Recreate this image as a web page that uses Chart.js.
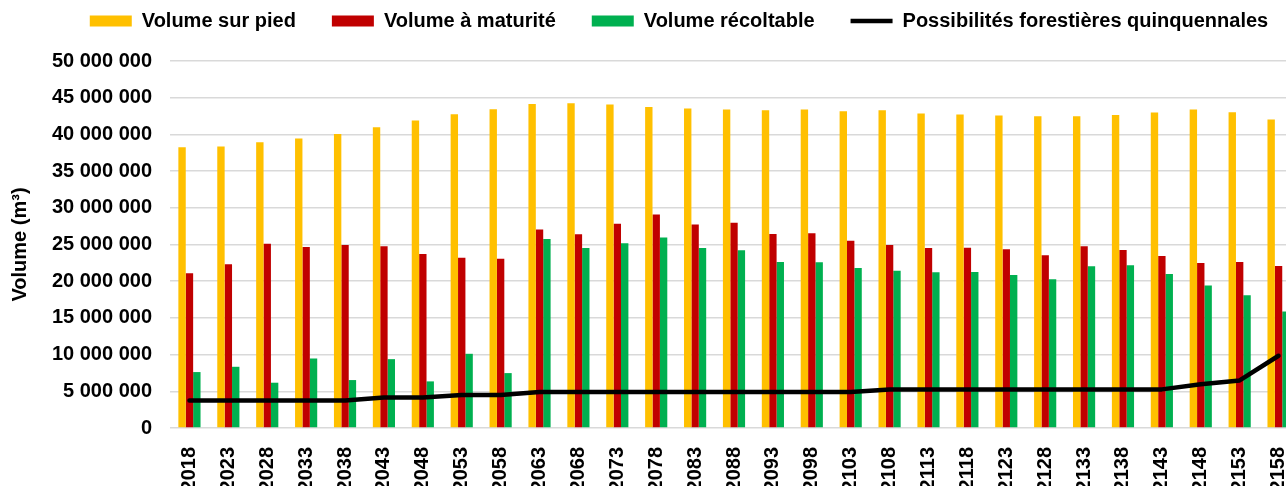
<!DOCTYPE html>
<html lang="fr">
<head>
<meta charset="utf-8">
<title>Volumes forestiers</title>
<script src="https://cdn.jsdelivr.net/npm/chart.js@4.4.1/dist/chart.umd.min.js"></script>
<style>
    html, body { margin: 0; padding: 0; background: #fff; overflow: hidden; }
    #wrap { width: 1358px; height: 492px; }
</style>
</head>
<body>
<div id="wrap"><canvas id="chart" width="1358" height="492"></canvas></div>
<script>
// Years (every 5 years)
const years = ['2018', '2023', '2028', '2033', '2038', '2043', '2048', '2053', '2058', '2063',
    '2068', '2073', '2078', '2083', '2088', '2093', '2098', '2103', '2108', '2113',
    '2118', '2123', '2128', '2133', '2138', '2143', '2148', '2153', '2158'];

// Volumes in m3
const volumeSurPied = [38260000, 38350000, 38940000, 39440000, 40070000, 40980000, 41890000, 42750000, 43430000, 44150000,
    44240000, 44060000, 43740000, 43520000, 43380000, 43290000, 43380000, 43150000, 43290000, 42840000,
    42700000, 42570000, 42470000, 42470000, 42660000, 42970000, 43380000, 43020000, 42020000];

const volumeMaturite = [21080000, 22300000, 25110000, 24660000, 24930000, 24750000, 23710000, 23210000, 23070000, 27060000,
    26380000, 27830000, 29100000, 27740000, 27970000, 26430000, 26520000, 25520000, 24930000, 24520000,
    24570000, 24340000, 23530000, 24750000, 24250000, 23440000, 22480000, 22620000, 22080000];

const volumeRecoltable = [7620000, 8340000, 6170000, 9470000, 6530000, 9380000, 6350000, 10110000, 7480000, 25750000,
    24520000, 25160000, 25970000, 24520000, 24210000, 22620000, 22570000, 21800000, 21440000, 21210000,
    21260000, 20850000, 20260000, 22030000, 22170000, 20990000, 19400000, 18090000, 15870000];

const possibilites = [3760000, 3760000, 3760000, 3760000, 3760000, 4170000, 4170000, 4490000, 4490000, 4900000,
    4900000, 4900000, 4900000, 4900000, 4900000, 4900000, 4900000, 4900000, 5260000, 5260000,
    5260000, 5260000, 5260000, 5260000, 5260000, 5260000, 5950000, 6480000, 9840000];

const yTicks = { min: 0, max: 50000000, step: 5000000 };

const FONT = '"Liberation Sans", Arial, sans-serif';
const GRID = '#d9d9d9';

Chart.defaults.font.family = FONT;
Chart.defaults.color = '#000';

// space as thousands separator: 50 000 000
function formatVolume(v) {
    return String(v).replace(/\B(?=(\d{3})+(?!\d))/g, ' ');
}

// Legend needs wide horizontal gaps but a fixed height -> force height after fit
const legendHeight = {
    id: 'legendHeight',
    beforeInit(chart) {
        const fit = chart.legend.fit;
        chart.legend.fit = function () {
            fit.call(this);
            this.height = 86;
        };
    }
};

const ctx = document.getElementById('chart').getContext('2d');

new Chart(ctx, {
    type: 'bar',
    data: {
        labels: years,
        datasets: [
            { label: 'Volume sur pied', data: volumeSurPied, backgroundColor: '#ffc000', pointStyle: 'rect', order: 1 },
            { label: 'Volume à maturité', data: volumeMaturite, backgroundColor: '#c00000', pointStyle: 'rect', order: 1 },
            { label: 'Volume récoltable', data: volumeRecoltable, backgroundColor: '#00b050', pointStyle: 'rect', order: 1 },
            {
                type: 'line',
                label: 'Possibilités forestières quinquennales',
                data: possibilites,
                borderColor: '#000',
                backgroundColor: '#000',
                borderWidth: 4.5,
                borderCapStyle: 'round',
                borderJoinStyle: 'round',
                pointRadius: 0,
                pointStyle: 'line',
                tension: 0,
                order: 0
            }
        ]
    },
    options: {
        responsive: false,
        devicePixelRatio: 1,
        animation: false,
        layout: { padding: { top: -25, right: 0, bottom: 0, left: 0 } },
        datasets: {
            bar: { barPercentage: 1, categoryPercentage: 0.57 }
        },
        plugins: {
            legend: {
                position: 'top',
                labels: {
                    usePointStyle: true,
                    pointStyleWidth: 42,
                    boxHeight: 11,
                    padding: 36,
                    color: '#000',
                    font: { size: 20, weight: 'bold' },
                    sort: (a, b) => a.datasetIndex - b.datasetIndex
                }
            },
            tooltip: { enabled: false }
        },
        scales: {
            x: {
                grid: { display: false, drawTicks: false },
                border: { display: false },
                ticks: {
                    autoSkip: false,
                    minRotation: 90,
                    maxRotation: 90,
                    padding: 19,
                    color: '#000',
                    font: { size: 20, weight: 'bold' }
                },
                afterFit(scale) { scale.height = 64; }
            },
            y: {
                min: yTicks.min,
                max: yTicks.max,
                grid: { color: GRID, lineWidth: 1.5, drawTicks: false },
                border: { display: false },
                ticks: {
                    stepSize: yTicks.step,
                    padding: 18,
                    color: '#000',
                    font: { size: 20, weight: 'bold' },
                    callback: (v) => formatVolume(v)
                },
                title: {
                    display: true,
                    text: 'Volume (m³)',
                    color: '#000',
                    padding: { top: 8, bottom: 0 },
                    font: { size: 20, weight: 'bold' }
                },
                afterFit(scale) { scale.width = 170; }
            },
            // empty right axis: keeps the plot edge where the original crop cuts it
            yRight: {
                position: 'right',
                display: true,
                grid: { display: false, drawOnChartArea: false, drawTicks: false },
                border: { display: false },
                ticks: { display: false },
                afterFit(scale) { scale.width = 60; }
            }
        }
    },
    plugins: [legendHeight]
});
</script>
</body>
</html>
